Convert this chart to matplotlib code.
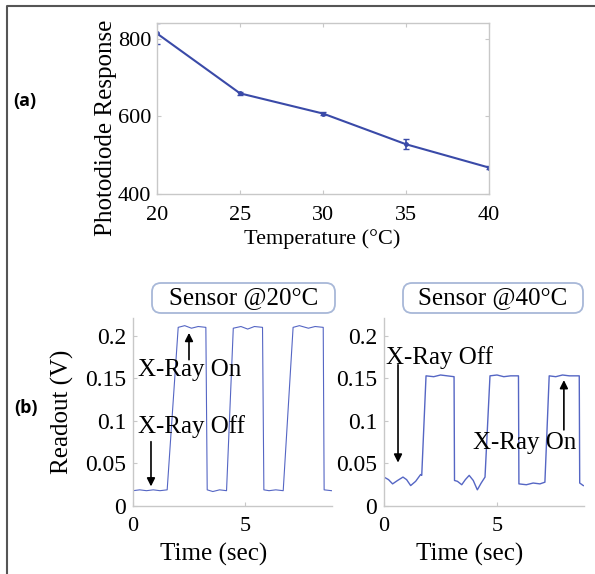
import matplotlib
matplotlib.use('Agg')
from matplotlib import pyplot as plt
from matplotlib.patches import FancyBboxPatch
from matplotlib.lines import Line2D
from matplotlib.transforms import IdentityTransform

# panel (a): photodiode response vs temperature
temps = [20, 25, 30, 35, 40]
response = [813, 659, 607, 528, 468]
response_err = [27, 3, 3, 13, 3]

# panel (b): readout traces (time in sec, volts)
t20 = [0, 0.3, 0.6, 0.9, 1.2, 1.52, 2.01, 2.3, 2.6, 2.9, 3.24, 3.3, 3.55, 3.85,
       4.16, 4.46, 4.8, 5.1, 5.4, 5.76, 5.82, 6.05, 6.35, 6.68, 7.12, 7.4, 7.8,
       8.1, 8.46, 8.5, 8.83]
v20 = [0.018, 0.019, 0.018, 0.019, 0.018, 0.019, 0.210, 0.212, 0.209, 0.211,
       0.210, 0.019, 0.017, 0.019, 0.018, 0.209, 0.211, 0.208, 0.211, 0.210,
       0.019, 0.018, 0.019, 0.018, 0.210, 0.212, 0.209, 0.211, 0.210, 0.019, 0.018]

t40 = [0, 0.2, 0.38, 0.6, 0.84, 1.0, 1.18, 1.4, 1.62, 1.67, 1.86, 2.2, 2.5, 2.8,
       3.1, 3.12, 3.25, 3.44, 3.6, 3.77, 3.95, 4.13, 4.3, 4.47, 4.69, 5.0, 5.3,
       5.6, 5.95, 5.97, 6.3, 6.6, 6.9, 7.12, 7.31, 7.6, 7.9, 8.2, 8.64, 8.66, 8.82]
v40 = [0.034, 0.031, 0.026, 0.030, 0.034, 0.031, 0.024, 0.029, 0.037, 0.036,
       0.153, 0.152, 0.154, 0.153, 0.152, 0.030, 0.029, 0.025, 0.031, 0.036,
       0.030, 0.019, 0.027, 0.034, 0.153, 0.154, 0.152, 0.153, 0.153, 0.026,
       0.025, 0.027, 0.026, 0.028, 0.153, 0.152, 0.154, 0.153, 0.153, 0.027, 0.024]

readout_ticks = [0, 0.05, 0.1, 0.15, 0.2]
readout_labels = ['0', '0.05', '0.1', '0.15', '0.2']

plt.rcParams['font.family'] = ['Liberation Serif', 'DejaVu Serif']

W, H = 595, 574
fig = plt.figure(figsize=(W / 100, H / 100), dpi=100)

spine_col = '#c8c8c8'
line_col = '#3a4aa8'
trace_col = '#5566c4'


def style_axes(ax, box=False):
    for side in ['top', 'right']:
        ax.spines[side].set_visible(box)
    for sp in ax.spines.values():
        sp.set_color(spine_col)
        sp.set_linewidth(1.0)
    ax.tick_params(direction='in', length=3, color=spine_col, top=box, right=box)


def ax_rect(x0, y0, x1, y1):
    # pixel box (y from top) to figure fraction
    return [x0 / W, 1 - y1 / H, (x1 - x0) / W, (y1 - y0) / H]


# ---- (a)
axa = fig.add_axes(ax_rect(157, 23, 489, 194))
axa.errorbar(temps, response, yerr=response_err, color=line_col, lw=1.5,
             marker='o', ms=2.5, capsize=2, elinewidth=1.2)
axa.set_xlim(20, 40)
axa.set_ylim(400, 840)
axa.set_xticks(temps)
axa.set_yticks([400, 600, 800])
style_axes(axa, box=True)
axa.tick_params(axis='both', labelsize=16)
axa.tick_params(axis='x', pad=9)
axa.tick_params(axis='y', pad=4)
axa.set_ylabel('Photodiode Response', fontsize=18, va='center')
axa.yaxis.set_label_coords(-0.154, 0.386)
axa.set_xlabel('Temperature (°C)', fontsize=16, va='center')
axa.xaxis.set_label_coords(0.497, -0.263)

# ---- (b) left
axl = fig.add_axes(ax_rect(133, 318, 332, 506))
axl.plot(t20, v20, color=trace_col, lw=0.8)
axl.set_xlim(0, 8.85)
axl.set_ylim(0, 0.221)
axl.set_yticks(readout_ticks, readout_labels)
axl.set_xticks([0, 5])
style_axes(axl)
axl.tick_params(axis='y', labelsize=17, pad=5)
axl.tick_params(axis='x', labelsize=16, pad=8)
axl.set_ylabel('Readout (V)', fontsize=18, va='center')
axl.yaxis.set_label_coords(-0.352, 0.5)
axl.set_xlabel('Time (sec)', fontsize=18, va='center')
axl.xaxis.set_label_coords(0.407, -0.26)

arrow = dict(arrowstyle='-|>', color='black', lw=1.2, mutation_scale=12,
             shrinkA=0, shrinkB=0)
axl.text(0.22, 0.160, 'X-Ray On', fontsize=18, va='center', ha='left')
axl.annotate('', xy=(2.49, 0.2035), xytext=(2.49, 0.172), arrowprops=arrow)
axl.text(0.22, 0.094, 'X-Ray Off', fontsize=18, va='center', ha='left')
axl.annotate('', xy=(0.8, 0.023), xytext=(0.8, 0.0756), arrowprops=arrow)

# ---- (b) right
axr = fig.add_axes(ax_rect(384, 318, 584, 506))
axr.plot(t40, v40, color=trace_col, lw=1.0)
axr.set_xlim(0, 8.85)
axr.set_ylim(0, 0.221)
axr.set_yticks(readout_ticks, readout_labels)
axr.set_xticks([0, 5])
style_axes(axr)
axr.tick_params(axis='y', labelsize=17, pad=5)
axr.tick_params(axis='x', labelsize=16, pad=8)
axr.set_xlabel('Time (sec)', fontsize=18, va='center')
axr.xaxis.set_label_coords(0.43, -0.26)

axr.text(0.09, 0.174, 'X-Ray Off', fontsize=18, va='center', ha='left')
axr.annotate('', xy=(0.62, 0.051), xytext=(0.62, 0.166), arrowprops=arrow)
axr.text(3.94, 0.0744, 'X-Ray On', fontsize=18, va='center', ha='left')
axr.annotate('', xy=(7.96, 0.148), xytext=(7.96, 0.0895), arrowprops=arrow)

# sensor title boxes
for x0, x1, label in [(152, 335, 'Sensor @20°C'), (403, 583, 'Sensor @40°C')]:
    box = FancyBboxPatch((x0, H - 313), x1 - x0, 30,
                         boxstyle='round,pad=0,rounding_size=9',
                         transform=IdentityTransform(), facecolor='white',
                         edgecolor='#a8b8d8', lw=1.3)
    fig.add_artist(box)
    fig.text((x0 + x1) / 2 / W, 1 - 298 / H, label, fontsize=18,
             ha='center', va='center')

# panel letters
fig.text(25 / W, 1 - 101 / H, '(a)', fontsize=13, fontweight='bold',
         family='Open Sans', ha='center', va='center')
fig.text(26 / W, 1 - 408 / H, '(b)', fontsize=13, fontweight='bold',
         family='Open Sans', ha='center', va='center')

# outer frame (left + top edges)
fig.add_artist(Line2D([7 / W, 7 / W, 1], [0, 1 - 6 / H, 1 - 6 / H],
                      transform=fig.transFigure, color='#555555', lw=1.5))

fig.savefig('out.png', dpi=100)
